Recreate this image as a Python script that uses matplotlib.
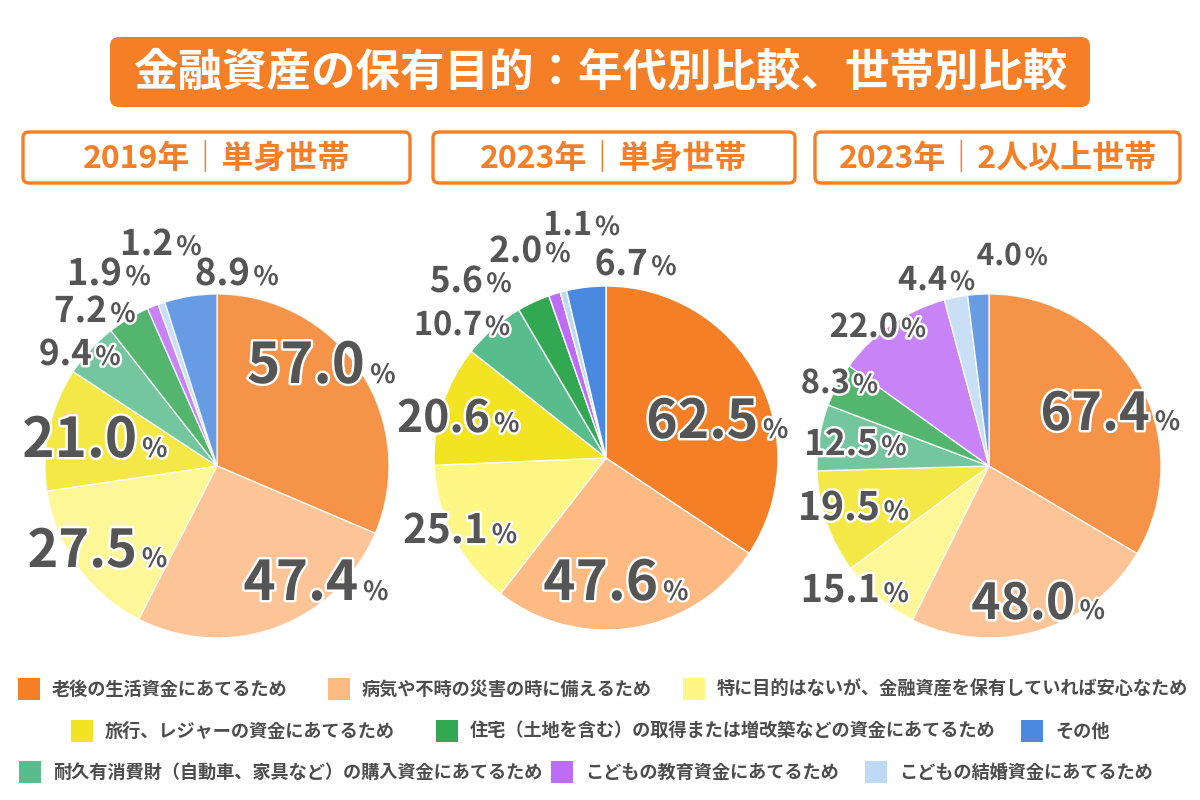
import matplotlib.pyplot as plt
import matplotlib.patheffects as pe
from matplotlib.patches import FancyBboxPatch, Rectangle

plt.rcParams['font.family'] = ['Noto Sans CJK JP', 'DejaVu Sans']

# categories (pie order, clockwise from 12 o'clock)
cats = ["老後の生活資金にあてるため",
        "病気や不時の災害の時に備えるため",
        "特に目的はないが、金融資産を保有していれば安心なため",
        "旅行、レジャーの資金にあてるため",
        "耐久有消費財（自動車、家具など）の購入資金にあてるため",
        "住宅（土地を含む）の取得または増改築などの資金にあてるため",
        "こどもの教育資金にあてるため",
        "こどもの結婚資金にあてるため",
        "その他"]
colors = ["#F47F26", "#FDBA83", "#FEF685", "#F2E422", "#58BC8C",
          "#33A852", "#BE6CF6", "#BED9F4", "#4A89E0"]

# order of the legend (indices into cats)
legend_order = [0, 1, 2, 3, 5, 8, 4, 6, 7]

titles = ["2019年｜単身世帯", "2023年｜単身世帯", "2023年｜2人以上世帯"]
vals_2019_single = [57.0, 47.4, 27.5, 21.0, 9.4, 7.2, 1.9, 1.2, 8.9]
vals_2023_single = [62.5, 47.6, 25.1, 20.6, 10.7, 5.6, 2.0, 1.1, 6.7]
vals_2023_multi = [67.4, 48.0, 15.1, 19.5, 12.5, 8.3, 22.0, 4.4, 4.0]
all_vals = [vals_2019_single, vals_2023_single, vals_2023_multi]

# layout (pixels): pie centres, title boxes, label anchors (right edge of number, baseline, digit height)
centers = [(217, 466), (606, 458), (989, 466)]
R = 172
alphas = [0.84, 1.0, 0.84]
boxes = [(23, 132, 387, 51), (433, 132, 362, 51), (815, 132, 365, 51)]
label_pos = [
    [(365, 383, 43), (358, 600, 42), (137, 567, 40), (137, 457, 42), (92, 365, 27),
     (107, 322, 27), (122, 285, 28), (173, 255, 27), (250, 285, 28)],
    [(758, 438, 41), (658, 600, 42), (488, 543, 31), (490, 432, 34), (482, 335, 25),
     (483, 292, 27), (542, 262, 27), (592, 235, 25), (648, 275, 27)],
    [(1150, 430, 40), (1075, 619, 38), (880, 602, 29), (880, 520, 30), (878, 455, 27),
     (850, 393, 25), (898, 337, 25), (947, 290, 25), (1022, 265, 23)],
]
legend_xy = [(18, 689), (328, 689), (683, 689), (71, 731), (436, 731), (1021, 731),
             (19, 772), (551, 772), (865, 772)]

ORANGE = "#F47F26"
GRAY = "#555555"

fig = plt.figure(figsize=(12, 8), dpi=100)
ax = fig.add_axes([0, 0, 1, 1])

# pies (y axis inverted -> counterclock=True draws clockwise)
for k, vals in enumerate(all_vals):
    ax.pie(vals, colors=colors, center=centers[k], radius=R, startangle=270,
           counterclock=True,
           wedgeprops=dict(edgecolor="white", linewidth=1, alpha=alphas[k]))

ax.set_xlim(0, 1200)
ax.set_ylim(800, 0)
ax.set_aspect('auto')
ax.axis('off')

stroke = [pe.withStroke(linewidth=3.5, foreground="white")]
for k, vals in enumerate(all_vals):
    for v, (xr, yb, h) in zip(vals, label_pos[k]):
        ax.text(xr, yb, f"{v:.1f}", ha='right', va='baseline', fontsize=h * 0.94,
                fontweight='bold', color=GRAY, path_effects=stroke)
        ax.text(xr + 0.12 * h, yb, "%", ha='left', va='baseline',
                fontsize=min(19, 0.75 * h), fontweight='bold', color=GRAY,
                path_effects=stroke)

# main title
ax.add_patch(FancyBboxPatch((110, 37), 980, 70, boxstyle="round,pad=0,rounding_size=9",
                            facecolor=ORANGE, edgecolor="none"))
ax.text(600, 73, "金融資産の保有目的：年代別比較、世帯別比較", ha='center', va='center',
        fontsize=32, fontweight='bold', color="white")

# sub titles
for (x, y, w, h), t in zip(boxes, titles):
    ax.add_patch(FancyBboxPatch((x, y), w, h, boxstyle="round,pad=0,rounding_size=6",
                                facecolor="white", edgecolor=ORANGE, linewidth=2.4))
    ax.text(x + w / 2, y + h / 2 + 1, t, ha='center', va='center', fontsize=23,
            fontweight='bold', color=ORANGE)

# legend
for i, (x, y) in zip(legend_order, legend_xy):
    ax.add_patch(Rectangle((x, y - 11), 22, 22, facecolor=colors[i], edgecolor="none"))
    ax.text(x + 34, y, cats[i], ha='left', va='center', fontsize=13.1,
            fontweight='bold', color="#4D4D4D")

fig.savefig("out.png", dpi=100)
